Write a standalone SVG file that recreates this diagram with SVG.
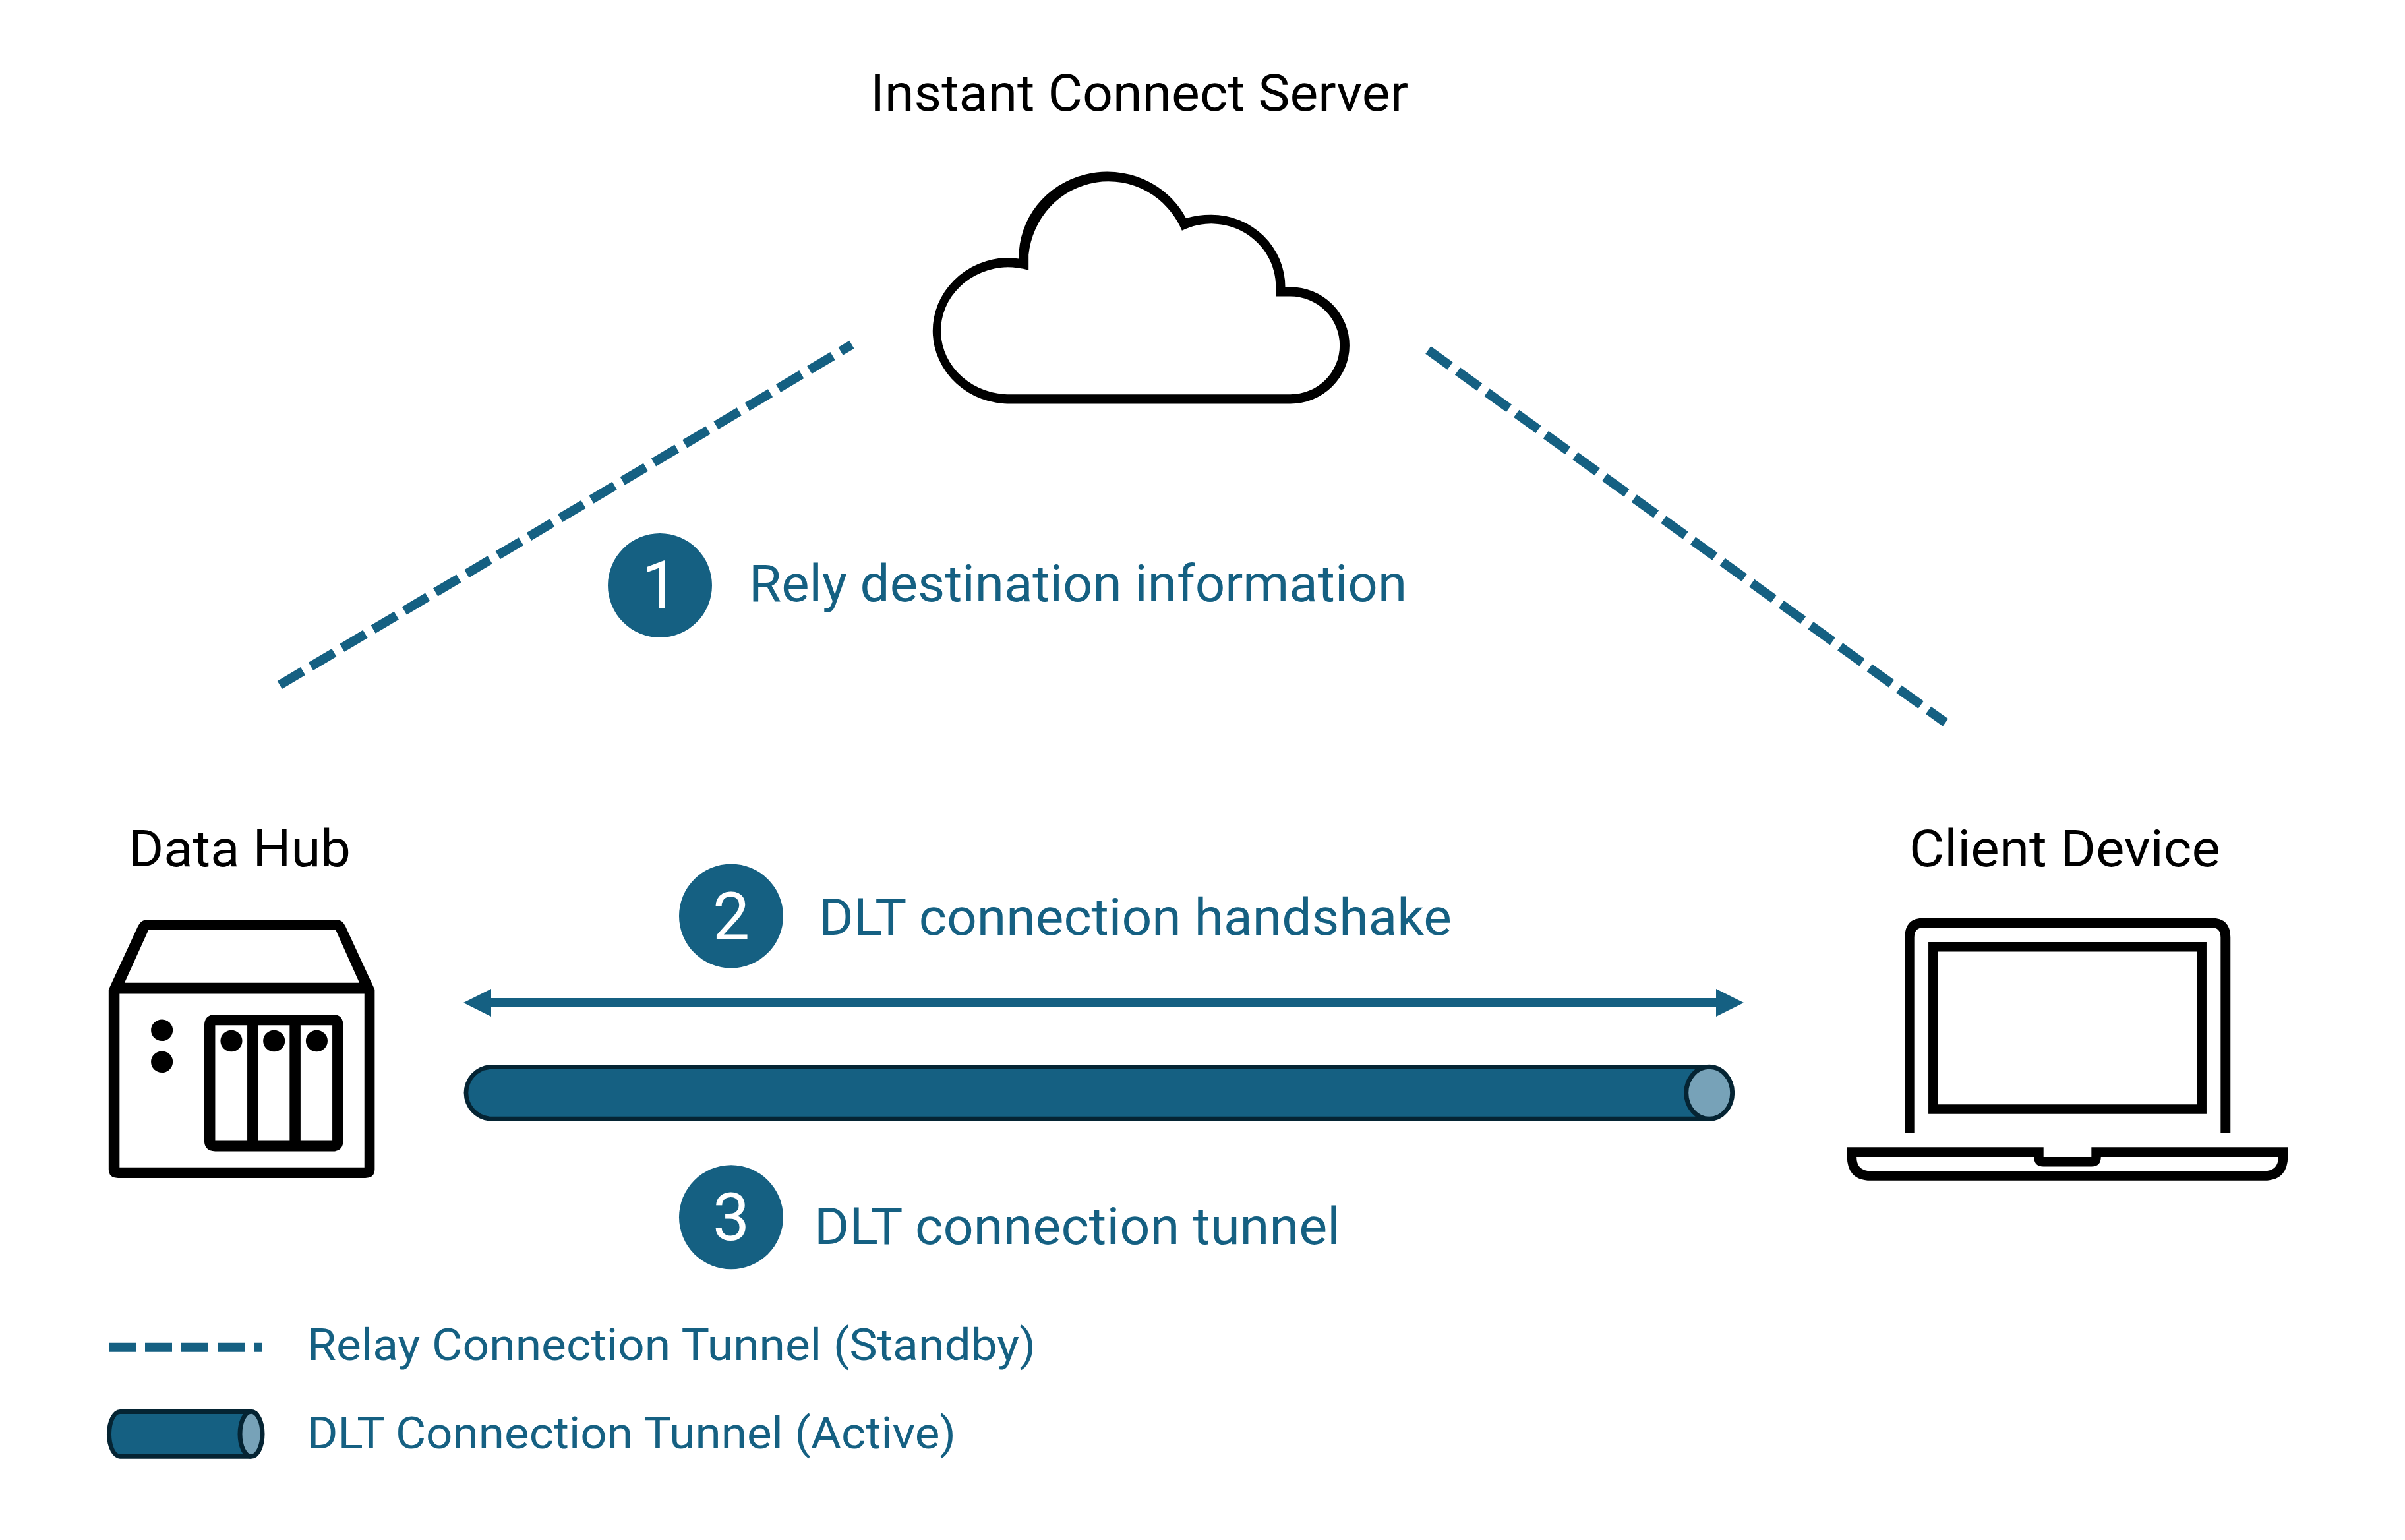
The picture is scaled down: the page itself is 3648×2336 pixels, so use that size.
<svg xmlns="http://www.w3.org/2000/svg" width="3648" height="2336" viewBox="0 0 3648 2336">
<style>
text{font-family:Roboto,"Liberation Sans",sans-serif}
.k{fill:#000;font-size:77px}
.b{fill:#156082;font-size:77px}
.l{fill:#156082;font-size:67px}
.n{fill:#fff;font-size:100px;text-anchor:middle}
.c{fill:#156082}
.icon{fill:#000;fill-rule:evenodd}
.dash{fill:none;stroke:#156082;stroke-width:14;stroke-dasharray:41 14}
.arrow{fill:none;stroke:#156082;stroke-width:14}
.tube{fill:#156082}
.tubeEdge{fill:#052433}
.cap{fill:#77A2B8;stroke:#052433;stroke-width:7}
</style>
<defs>
<marker id="head" markerUnits="userSpaceOnUse" markerWidth="42" markerHeight="42" viewBox="0 0 42 42" refX="0" refY="21" orient="auto-start-reverse"><path d="M0 0L42 21L0 42Z" fill="#156082"/></marker>
</defs>
<rect width="3648" height="2336" fill="#fff"/>
<g id="connectors">
<path class="dash" d="M424.3 1039L1292 522.7"/>
<path class="dash" d="M2166.3 531L2951 1096"/>
<path class="arrow" d="M745 1521H2603" marker-start="url(#head)" marker-end="url(#head)"/>
</g>
<g id="dlt-tunnel">
<path class="tubeEdge" d="M743 1615H2592.7V1700.7H743A43 43 0 0 1 743 1615Z"/>
<path class="tube" d="M743 1622H2592.7V1693.7H743A36 36 0 0 1 743 1622Z"/>
<ellipse class="cap" cx="2592.7" cy="1657.8" rx="35" ry="39.5"/>
</g>
<g id="instant-connect-server">
<text class="k" x="1320" y="168.4" textLength="816" lengthAdjust="spacingAndGlyphs">Instant Connect Server</text>
<path class="icon" transform="translate(1350 67.4) scale(.5102 .3754)" d="M360 1452A228 295 0 0 1 350 862Q366 862 383 866A263 345 0 0 1 880 702Q915 688 955 688A220 292 0 0 1 1175 980H1190A176 236 0 0 1 1190 1452ZM360 1414H1190A147 198 0 0 0 1190 1018H1147V980A192 254 0 0 0 868 752A238.500 330 0 0 0 412 850V912Q380 900 350 900A204 257 0 0 0 360 1414Z"/>
</g>
<g id="data-hub">
<text class="k" x="195" y="1313.6" textLength="337" lengthAdjust="spacingAndGlyphs">Data Hub</text>
<g class="icon" transform="translate(130 1241.6) scale(.4464 .3787)">
<path d="M78 685L178 430Q188 405 212 405H850Q872 405 882 430L982 685V1405Q982 1440 950 1440H110Q78 1440 78 1405ZM213 447L132 658H930L850 447ZM115 702V1397H947V702ZM403 830Q403 785 440 785H840Q875 785 875 830V1290Q875 1333 840 1333H440Q403 1333 403 1290ZM440 828V1291H549V828ZM585 828V1291H693V828ZM730 828V1291H838V828Z"/>
<ellipse cx="259" cy="848" rx="37" ry="43"/><ellipse cx="259" cy="975" rx="37" ry="43"/>
<ellipse cx="495" cy="891" rx="37" ry="43"/><ellipse cx="640" cy="891" rx="37" ry="43"/><ellipse cx="785" cy="891" rx="37" ry="43"/>
</g>
</g>
<g id="client-device">
<text class="k" x="2896" y="1313.6" textLength="472" lengthAdjust="spacingAndGlyphs">Client Device</text>
<path class="icon" transform="translate(2740 1240.8) scale(.4975 .3812)" d="M300 1253V475Q300 398 358 398H1235Q1293 398 1293 475V1253H1263V475Q1263 436 1235 436H358Q329 436 329 475V1253ZM372 494H1220V1178H372ZM401 532V1140H1191V532ZM124 1310H723V1349H869V1310H1468V1345Q1468 1443 1395 1443H197Q124 1443 124 1345ZM153 1349Q153 1405 197 1405H1395Q1439 1405 1439 1349H898Q898 1387 869 1387H723Q694 1387 694 1349Z"/>
</g>
<g id="step-1">
<circle class="c" cx="1001" cy="888" r="79"/>
<text class="n" x="1001" y="922">1</text>
<text class="b" x="1136" y="912" textLength="998" lengthAdjust="spacingAndGlyphs">Rely destination information</text>
</g>
<g id="step-2">
<circle class="c" cx="1109" cy="1389.5" r="79"/>
<text class="n" x="1109" y="1424.7">2</text>
<text class="b" x="1242" y="1418" textLength="960" lengthAdjust="spacingAndGlyphs">DLT connection handshake</text>
</g>
<g id="step-3">
<circle class="c" cx="1109" cy="1846.3" r="79"/>
<text class="n" x="1109" y="1880.5">3</text>
<text class="b" x="1235" y="1887.3" textLength="798" lengthAdjust="spacingAndGlyphs">DLT connection tunnel</text>
</g>
<g id="legend">
<path class="dash" d="M165 2043.8H398"/>
<text class="l" x="466" y="2062.7" textLength="1105" lengthAdjust="spacingAndGlyphs">Relay Connection Tunnel (Standby)</text>
<path class="tubeEdge" d="M182 2138H381V2212.7H182A20 37.3 0 0 1 182 2138Z"/>
<path class="tube" d="M182 2145H381V2205.7H182A13 30.3 0 0 1 182 2145Z"/>
<ellipse class="cap" cx="381" cy="2175.3" rx="17" ry="34"/>
<text class="l" x="466" y="2197" textLength="984" lengthAdjust="spacingAndGlyphs">DLT Connection Tunnel (Active)</text>
</g>
</svg>
